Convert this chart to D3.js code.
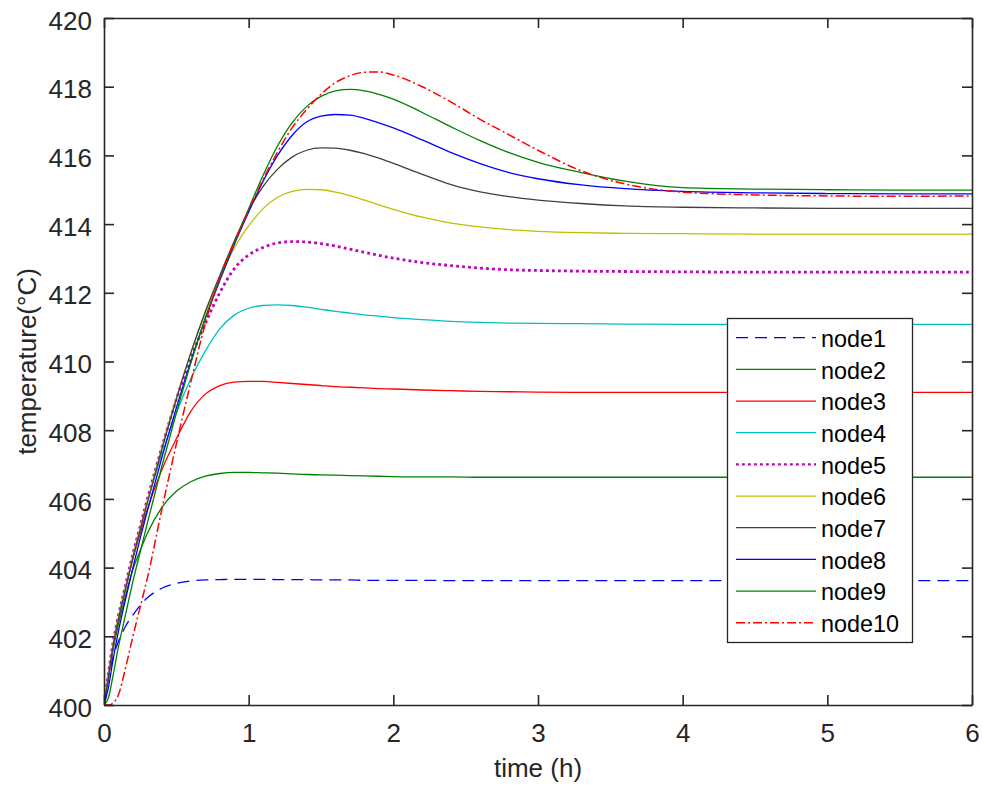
<!DOCTYPE html>
<html>
<head>
<meta charset="utf-8">
<script src="https://cdn.jsdelivr.net/npm/d3@7"></script>
<style>
  body { margin: 0; background: #fff; }
  svg { display: block; font-family: "Liberation Sans", Arial, Helvetica, sans-serif; }
</style>
</head>
<body>
<figure id="chart" style="margin:0"></figure>
<script>
// time axis (h), shared by every node
const timeH = [0, 0.03, 0.06, 0.1, 0.15, 0.2, 0.25, 0.3, 0.4, 0.5, 0.6, 0.7, 0.8, 0.9, 1.0,
  1.1, 1.2, 1.3, 1.4, 1.5, 1.6, 1.7, 1.8, 1.9, 2.0, 2.2, 2.4, 2.6, 2.8, 3.0,
  3.3, 3.6, 4.0, 4.5, 5.0, 5.5, 6.0];

// temperature (°C)
const node1 = [400, 400.75, 401.35, 401.85, 402.3, 402.62, 402.9, 403.12, 403.4, 403.54, 403.61, 403.64, 403.65, 403.66, 403.66,
  403.66, 403.65, 403.65, 403.65, 403.64, 403.64, 403.64, 403.63, 403.63, 403.63, 403.63, 403.62, 403.62, 403.62, 403.62,
  403.62, 403.62, 403.62, 403.62, 403.62, 403.62, 403.62];
const node2 = [400, 400.8, 401.55, 402.35, 403.2, 403.95, 404.5, 405.0, 405.75, 406.22, 406.5, 406.66, 406.74, 406.77, 406.77,
  406.76, 406.75, 406.73, 406.71, 406.7, 406.69, 406.68, 406.67, 406.66, 406.65, 406.64, 406.64, 406.63, 406.63, 406.63,
  406.63, 406.63, 406.63, 406.63, 406.63, 406.63, 406.63];
const node3 = [400, 400.8, 401.6, 402.5, 403.4, 404.25, 405.0, 405.7, 406.85, 407.75, 408.55, 409.05, 409.3, 409.4, 409.42,
  409.42, 409.39, 409.36, 409.33, 409.3, 409.27, 409.25, 409.23, 409.21, 409.2, 409.17, 409.15, 409.13, 409.12, 409.11,
  409.1, 409.1, 409.1, 409.1, 409.1, 409.1, 409.1];
const node4 = [400, 400.85, 401.65, 402.55, 403.45, 404.3, 405.1, 405.9, 407.3, 408.5, 409.5, 410.3, 410.95, 411.35, 411.55,
  411.63, 411.65, 411.63, 411.58, 411.52, 411.46, 411.41, 411.36, 411.32, 411.28, 411.22, 411.17, 411.14, 411.12, 411.11,
  411.1, 411.09, 411.08, 411.08, 411.08, 411.08, 411.08];
const node5 = [400, 400.9, 401.75, 402.6, 403.5, 404.4, 405.2, 406.0, 407.5, 408.9, 410.1, 411.1, 412.0, 412.7, 413.1,
  413.32, 413.45, 413.49, 413.48, 413.43, 413.36, 413.27, 413.18, 413.09, 413.01, 412.88, 412.79, 412.72, 412.67, 412.65,
  412.63, 412.62, 412.61, 412.6, 412.6, 412.6, 412.6];
const node6 = [400, 400.85, 401.7, 402.55, 403.45, 404.35, 405.15, 405.95, 407.5, 408.95, 410.25, 411.4, 412.4, 413.3, 413.95,
  414.45, 414.78, 414.95, 415.01, 415.0, 414.93, 414.83, 414.7, 414.56, 414.43, 414.2, 414.03, 413.92, 413.84, 413.79,
  413.75, 413.73, 413.72, 413.71, 413.71, 413.71, 413.71];
const node7 = [400, 400.8, 401.65, 402.5, 403.4, 404.3, 405.1, 405.9, 407.45, 408.9, 410.25, 411.45, 412.5, 413.5, 414.4,
  415.1, 415.6, 415.95, 416.15, 416.22, 416.21, 416.15, 416.05, 415.92, 415.77, 415.45, 415.15, 414.94, 414.8, 414.7,
  414.6, 414.53, 414.49, 414.47, 414.46, 414.46, 414.46];
const node8 = [400, 400.5, 401.25, 402.15, 403.1, 404.0, 404.85, 405.65, 407.2, 408.65, 410.0, 411.25, 412.35, 413.4, 414.35,
  415.25, 416.0, 416.58, 416.97, 417.14, 417.19, 417.17, 417.08, 416.95, 416.8, 416.45, 416.08, 415.76, 415.5, 415.32,
  415.14, 415.03, 414.95, 414.91, 414.89, 414.88, 414.88];
const node9 = [400, 400.2, 400.8, 401.7, 402.65, 403.6, 404.45, 405.3, 406.95, 408.5, 409.95, 411.25, 412.4, 413.45, 414.45,
  415.42, 416.28, 416.95, 417.42, 417.72, 417.88, 417.92, 417.88, 417.78, 417.64, 417.25, 416.83, 416.43, 416.08, 415.8,
  415.5, 415.25, 415.06, 415.02, 415.0, 414.99, 414.99];
const node10 = [400, 400.0, 400.05, 400.3, 401.1, 402.0, 402.85, 403.7, 405.7, 407.6, 409.4, 411.1, 412.45, 413.45, 414.4,
  415.3, 416.1, 416.8, 417.33, 417.78, 418.12, 418.32, 418.42, 418.43, 418.34, 418.0, 417.55, 417.05, 416.6, 416.15,
  415.55, 415.17, 414.93, 414.85, 414.82, 414.81, 414.82];

const seriesNames = ["node1", "node2", "node3", "node4", "node5", "node6", "node7", "node8", "node9", "node10"];
const xTicks = [0, 1, 2, 3, 4, 5, 6];
const yTicks = [400, 402, 404, 406, 408, 410, 412, 414, 416, 418, 420];

// matlab-ish line specs, one per node
const lineStyles = [
  { color: "#0000ff", width: 1.3, dash: "12,7" },
  { color: "#008000", width: 1.3, dash: null },
  { color: "#ff0000", width: 1.3, dash: null },
  { color: "#00bfbf", width: 1.3, dash: null },
  { color: "#bf00bf", width: 2.8, dash: "2.8,3.2" },
  { color: "#bfbf00", width: 1.3, dash: null },
  { color: "#404040", width: 1.3, dash: null },
  { color: "#0000ff", width: 1.3, dash: null },
  { color: "#008000", width: 1.3, dash: null },
  { color: "#ff0000", width: 1.5, dash: "9,3,2,3" }
];

const width = 982;
const height = 788;
const margin = { top: 18, right: 10, bottom: 83, left: 104 };
const axisColor = "#262626";

const nodes = [node1, node2, node3, node4, node5, node6, node7, node8, node9, node10];
const series = seriesNames.map((name, i) => ({
  name: name,
  points: timeH.map((t, j) => ({ t: t, v: nodes[i][j] })),
  style: lineStyles[i]
}));

const svg = d3.select("figure#chart")
  .append("svg")
  .attr("width", width)
  .attr("height", height);

const x = d3.scaleLinear().domain([0, 6]).range([margin.left, width - margin.right]);
const y = d3.scaleLinear().domain([400, 420]).range([height - margin.bottom, margin.top]);

svg.append("defs").append("clipPath").attr("id", "plotclip")
  .append("rect")
  .attr("x", x(0)).attr("y", y(420))
  .attr("width", x(6) - x(0)).attr("height", y(400) - y(420));

// lines
const line = d3.line()
  .x(d => x(d.t))
  .y(d => y(d.v))
  .curve(d3.curveMonotoneX);

svg.append("g")
  .attr("clip-path", "url(#plotclip)")
  .selectAll("path")
  .data(series)
  .enter()
  .append("path")
  .attr("d", d => line(d.points))
  .attr("fill", "none")
  .attr("stroke", d => d.style.color)
  .attr("stroke-width", d => d.style.width)
  .attr("stroke-dasharray", d => d.style.dash);

// axes, ticks point inward like matlab's box
function styleAxis(g) {
  g.selectAll(".domain").attr("stroke", axisColor).attr("stroke-width", 1.6);
  g.selectAll(".tick line").attr("stroke", axisColor).attr("stroke-width", 1.6);
  g.selectAll(".tick text").attr("fill", axisColor).style("font-size", "26px");
}

svg.append("g")
  .attr("transform", "translate(0," + y(400) + ")")
  .call(d3.axisBottom(x).tickValues(xTicks).tickSize(-10).tickSizeOuter(0).tickPadding(19).tickFormat(d3.format("d")))
  .call(styleAxis)
  .attr("font-family", null);

svg.append("g")
  .attr("transform", "translate(" + x(0) + ",0)")
  .call(d3.axisLeft(y).tickValues(yTicks).tickSize(-10).tickSizeOuter(0).tickPadding(12).tickFormat(d3.format("d")))
  .call(styleAxis)
  .attr("font-family", null)
  .selectAll(".tick text").attr("dy", "0.43em");

svg.append("g")
  .attr("transform", "translate(0," + y(420) + ")")
  .call(d3.axisTop(x).tickValues(xTicks).tickSize(-10).tickSizeOuter(0).tickFormat(""))
  .call(styleAxis);

svg.append("g")
  .attr("transform", "translate(" + x(6) + ",0)")
  .call(d3.axisRight(y).tickValues(yTicks).tickSize(-10).tickSizeOuter(0).tickFormat(""))
  .call(styleAxis);

// axis titles
svg.append("text")
  .attr("x", (x(0) + x(6)) / 2)
  .attr("y", 777)
  .attr("text-anchor", "middle")
  .attr("fill", axisColor)
  .style("font-size", "26px")
  .text("time (h)");

svg.append("text")
  .attr("transform", "translate(36," + (y(400) + y(420)) / 2 + ") rotate(-90)")
  .attr("text-anchor", "middle")
  .attr("fill", axisColor)
  .style("font-size", "26px")
  .text("temperature(°C)");

// legend
const legendBox = { x: 727.5, y: 318.5, w: 185, h: 324 };
const legendRow = d3.scaleLinear().domain([0, seriesNames.length - 1]).range([337.7, 622.7]);

const legend = svg.append("g");
legend.append("rect")
  .attr("x", legendBox.x).attr("y", legendBox.y)
  .attr("width", legendBox.w).attr("height", legendBox.h)
  .attr("fill", "#fff")
  .attr("stroke", axisColor)
  .attr("stroke-width", 1.3);

const item = legend.selectAll("g.item")
  .data(series)
  .enter()
  .append("g")
  .attr("class", "item")
  .attr("transform", (d, i) => "translate(0," + legendRow(i) + ")");

item.append("line")
  .attr("x1", 736).attr("x2", 816)
  .attr("stroke", d => d.style.color)
  .attr("stroke-width", d => Math.min(d.style.width, 2.2))
  .attr("stroke-dasharray", d => d.style.dash);

item.append("text")
  .attr("x", 821)
  .attr("dy", "0.4em")
  .attr("fill", "#000")
  .style("font-size", "23.4px")
  .text(d => d.name);
</script>
</body>
</html>
